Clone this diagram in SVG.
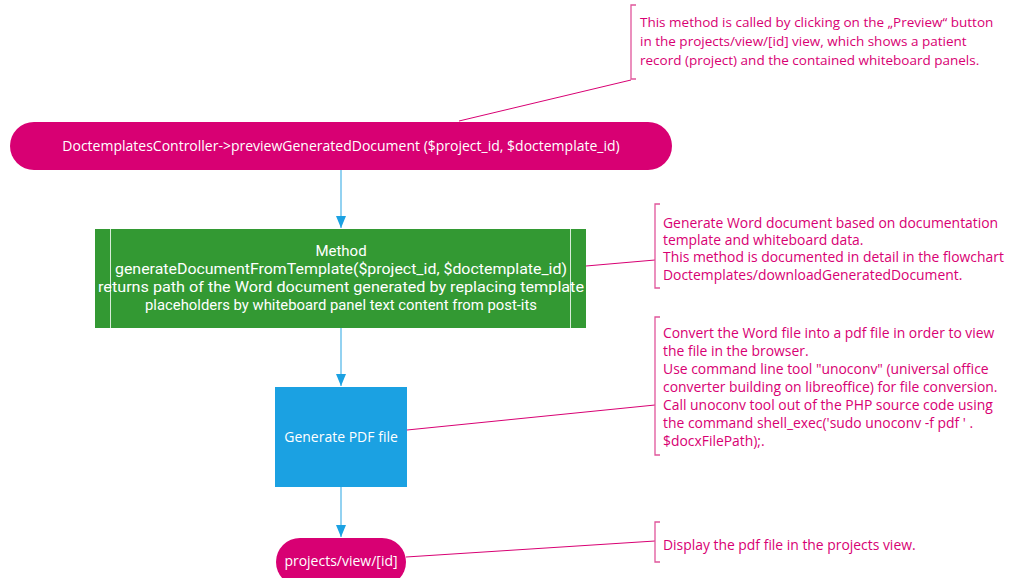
<svg xmlns="http://www.w3.org/2000/svg" width="1013" height="578" viewBox="0 0 1013 578">
  <style>
    .lbl { font-family: "Open Sans", "Noto Sans", "Liberation Sans", sans-serif; font-size: 14px; fill: #ffffff; text-anchor: middle; }
    .lbl.big { font-family: Roboto, "Open Sans", "Liberation Sans", sans-serif; font-size: 15px; }
    .note { font-family: "Open Sans", "Noto Sans", "Liberation Sans", sans-serif; font-size: 13.9px; fill: #d80073; }
    .note.top { font-size: 13.5px; }
    .flow { stroke: #6fc3ec; stroke-width: 1.5; fill: none; marker-end: url(#arrow); }
    .link { stroke: #d80073; stroke-width: 1; fill: none; }
    .bracket { stroke: #e0559b; stroke-width: 1.3; fill: none; }
    .terminal { fill: #d80073; }
    .process { fill: #339933; }
    .action { fill: #1ba1e2; }
  </style>
  <defs>
    <marker id="arrow" markerWidth="12" markerHeight="10" refX="12" refY="5" orient="auto" markerUnits="userSpaceOnUse">
      <path d="M0,0 L12,5 L0,10 Z" fill="#1ba1e2"/>
    </marker>
  </defs>
  <rect width="1013" height="578" fill="#ffffff"/>

  <!-- flow and annotation connectors -->
  <g id="connectors">
    <line class="flow" x1="341" y1="170" x2="341" y2="228"/>
    <line class="flow" x1="341" y1="328" x2="341" y2="386"/>
    <line class="flow" x1="341" y1="487" x2="341" y2="537"/>
    <line class="link" x1="459" y1="121" x2="631" y2="80"/>
    <line class="link" x1="586" y1="266" x2="655" y2="260"/>
    <line class="link" x1="407" y1="430" x2="655" y2="405"/>
    <line class="link" x1="406" y1="557" x2="655" y2="541"/>
  </g>

  <g id="start">
    <rect class="terminal" x="10" y="122" width="662" height="48" rx="24"/>
    <text class="lbl" x="341" y="151">DoctemplatesController-&gt;previewGeneratedDocument ($project_id, $doctemplate_id)</text>
  </g>

  <g id="generate-word">
    <rect class="process" x="95" y="229" width="491" height="99"/>
    <line x1="110.5" y1="229" x2="110.5" y2="328" stroke="#d8ecd8" stroke-width="1"/>
    <line x1="570.5" y1="229" x2="570.5" y2="328" stroke="#d8ecd8" stroke-width="1"/>
    <text class="lbl big" x="341" y="256">Method</text>
    <text class="lbl big" x="341" y="274" textLength="452" lengthAdjust="spacingAndGlyphs">generateDocumentFromTemplate($project_id, $doctemplate_id)</text>
    <text class="lbl big" x="341" y="292" textLength="486" lengthAdjust="spacingAndGlyphs">returns path of the Word document generated by replacing template</text>
    <text class="lbl big" x="341" y="310" textLength="392" lengthAdjust="spacingAndGlyphs">placeholders by whiteboard panel text content from post-its</text>
  </g>

  <g id="generate-pdf">
    <rect class="action" x="275" y="387" width="132" height="100"/>
    <text class="lbl" x="341" y="442">Generate PDF file</text>
  </g>

  <g id="end">
    <rect class="terminal" x="276" y="538" width="130" height="48" rx="24"/>
    <text class="lbl" x="341" y="566">projects/view/[id]</text>
  </g>

  <g id="note-preview">
    <path class="bracket" d="M636,5 H631 V79 H636"/>
    <text class="note top" x="640" y="27">This method is called by clicking on the „Preview“ button</text>
    <text class="note top" x="640" y="46">in the projects/view/[id] view, which shows a patient</text>
    <text class="note top" x="640" y="65">record (project) and the contained whiteboard panels.</text>
  </g>

  <g id="note-word">
    <path class="bracket" d="M660,204 H655 V288 H660"/>
    <text class="note" x="663" y="228">Generate Word document based on documentation</text>
    <text class="note" x="663" y="245">template and whiteboard data.</text>
    <text class="note" x="663" y="262">This method is documented in detail in the flowchart</text>
    <text class="note" x="663" y="280">Doctemplates/downloadGeneratedDocument.</text>
  </g>

  <g id="note-pdf">
    <path class="bracket" d="M660,317 H655 V455 H660"/>
    <text class="note" x="663" y="338">Convert the Word file into a pdf file in order to view</text>
    <text class="note" x="663" y="356">the file in the browser.</text>
    <text class="note" x="663" y="374">Use command line tool "unoconv" (universal office</text>
    <text class="note" x="663" y="392">converter building on libreoffice) for file conversion.</text>
    <text class="note" x="663" y="410">Call unoconv tool out of the PHP source code using</text>
    <text class="note" x="663" y="428">the command shell_exec('sudo unoconv -f pdf ' .</text>
    <text class="note" x="663" y="446">$docxFilePath);.</text>
  </g>

  <g id="note-display">
    <path class="bracket" d="M660,522 H655 V562 H660"/>
    <text class="note" x="663" y="550">Display the pdf file in the projects view.</text>
  </g>
</svg>
